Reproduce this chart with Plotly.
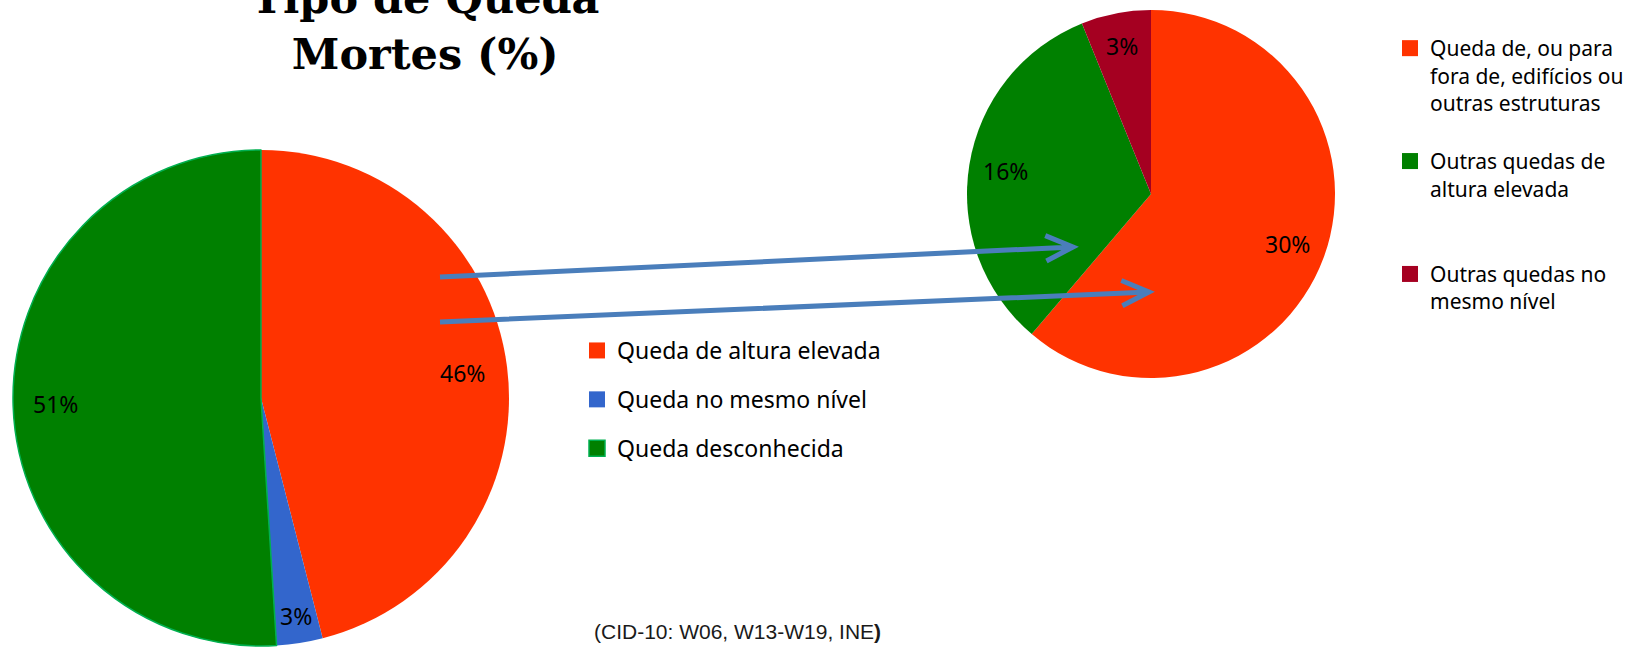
import math
import plotly.graph_objects as go

# dados
tipos = ["Queda de altura elevada", "Queda no mesmo nível", "Queda desconhecida"]
tipos_pct = [46, 3, 51]
tipos_cores = ["#FF3300", "#3366CC", "#008000"]

altura = ["Queda de, ou para<br>fora de, edifícios ou<br>outras estruturas",
          "Outras quedas de<br>altura elevada<br> ",
          "Outras quedas no<br>mesmo nível"]
altura_pct = [30, 16, 3]
altura_cores = ["#FF3300", "#008000", "#A50021"]

titulo = "Tipo de Queda<br>Mortes (%)"
fonte = "(CID-10: W06, W13-W19, INE<b>)</b>"

W, H = 1625, 647
# geometria das tartes em pixeis (centro x, centro y, raio)
PIE_L = (261, 398, 248)
PIE_R = (1151, 194, 184)
LABEL_FONT = dict(family="Noto Sans", size=23, color="black")


def domain(cx, cy, r):
    return dict(x=[(cx - r) / W, (cx + r) / W], y=[1 - (cy + r) / H, 1 - (cy - r) / H])


def pct_labels(vals, geom, radii):
    # etiquetas no angulo medio de cada fatia (sentido horario a partir do topo)
    cx, cy, r = geom
    tot = sum(vals)
    out = []
    acc = 0
    for v, f in zip(vals, radii):
        a = math.radians((acc + v / 2) / tot * 360)
        acc += v
        out.append(dict(x=cx + f * r * math.sin(a), y=cy - f * r * math.cos(a),
                        text=f"{v}%", showarrow=False, xref="x", yref="y", font=LABEL_FONT))
    return out


def arrow(x0, y0, x1, y1, head=30, ang=25):
    t = math.atan2(y1 - y0, x1 - x0)
    a1 = t + math.pi - math.radians(ang)
    a2 = t + math.pi + math.radians(ang)
    p = (f"M {x0} {y0} L {x1} {y1} "
         f"M {x1 + head * math.cos(a1)} {y1 + head * math.sin(a1)} L {x1} {y1} "
         f"L {x1 + head * math.cos(a2)} {y1 + head * math.sin(a2)}")
    return dict(type="path", path=p, xref="x", yref="y",
                line=dict(color="#4A7EBB", width=5))


fig = go.Figure()

fig.add_trace(go.Pie(
    labels=tipos, values=tipos_pct, sort=False, direction="clockwise",
    marker=dict(colors=tipos_cores, line=dict(color=["#FF3300", "#3366CC", "#00B050"], width=[0, 0, 1.5])),
    textinfo="none", hoverinfo="label+value", showlegend=False,
    domain=domain(*PIE_L),
))
fig.add_trace(go.Pie(
    labels=altura, values=altura_pct, sort=False, direction="clockwise",
    marker=dict(colors=altura_cores, line=dict(width=0)),
    textinfo="none", hoverinfo="label+value", showlegend=False,
    domain=domain(*PIE_R),
))

# entradas de legenda (uma por grupo para controlar o espacamento)
for i, (nome, cor) in enumerate(zip(tipos, tipos_cores)):
    borda = "#00B050" if i == 2 else cor
    fig.add_trace(go.Scatter(
        x=[None], y=[None], mode="markers", name=nome, legend="legend",
        legendgroup=f"a{i}",
        marker=dict(symbol="square", size=16, color=cor, line=dict(color=borda, width=1.5 if i == 2 else 0)),
    ))
for i, (nome, cor) in enumerate(zip(altura, altura_cores)):
    fig.add_trace(go.Scatter(
        x=[None], y=[None], mode="markers", name=nome, legend="legend2",
        legendgroup=f"b{i}",
        marker=dict(symbol="square", size=16, color=cor, line=dict(width=0)),
    ))

anns = pct_labels(tipos_pct, PIE_L, [0.82, 0.89, 0.83]) + pct_labels(altura_pct, PIE_R, [0.79, 0.8, 0.82])
anns.append(dict(x=425, y=26, xref="x", yref="y", text=f"<b>{titulo}</b>", showarrow=False,
                 yanchor="middle", font=dict(family="DejaVu Serif", size=43, color="black")))
anns.append(dict(x=737, y=631, xref="x", yref="y", text=fonte, showarrow=False,
                 font=dict(family="Liberation Sans, Arial", size=21, color="#1a1a1a")))

fig.update_layout(
    width=W, height=H, autosize=False,
    margin=dict(l=0, r=0, t=0, b=0, autoexpand=False),
    paper_bgcolor="white", plot_bgcolor="rgba(0,0,0,0)",
    xaxis=dict(range=[0, W], visible=False, fixedrange=True),
    yaxis=dict(range=[H, 0], visible=False, fixedrange=True),
    shapes=[arrow(440, 277, 1073, 247), arrow(440, 322, 1149, 292)],
    annotations=anns,
    legend=dict(x=(597 - 20) / W, y=1 - 329 / H, xanchor="left", yanchor="top",
                tracegroupgap=16, itemsizing="trace", bgcolor="rgba(0,0,0,0)",
                font=dict(family="Noto Sans", size=23, color="black")),
    legend2=dict(x=(1410 - 20) / W, y=1 - 28 / H, xanchor="left", yanchor="top",
                 tracegroupgap=28, itemsizing="trace", valign="top", bgcolor="rgba(0,0,0,0)",
                 font=dict(family="Noto Sans", size=21, color="black")),
)

fig.write_html(
    "out.html", config={"displayModeBar": False, "responsive": False},
    post_script=("document.documentElement.style.overflow='hidden';"
                 "document.body.style.overflow='hidden';"
                 "document.body.style.margin='0';"),
)
